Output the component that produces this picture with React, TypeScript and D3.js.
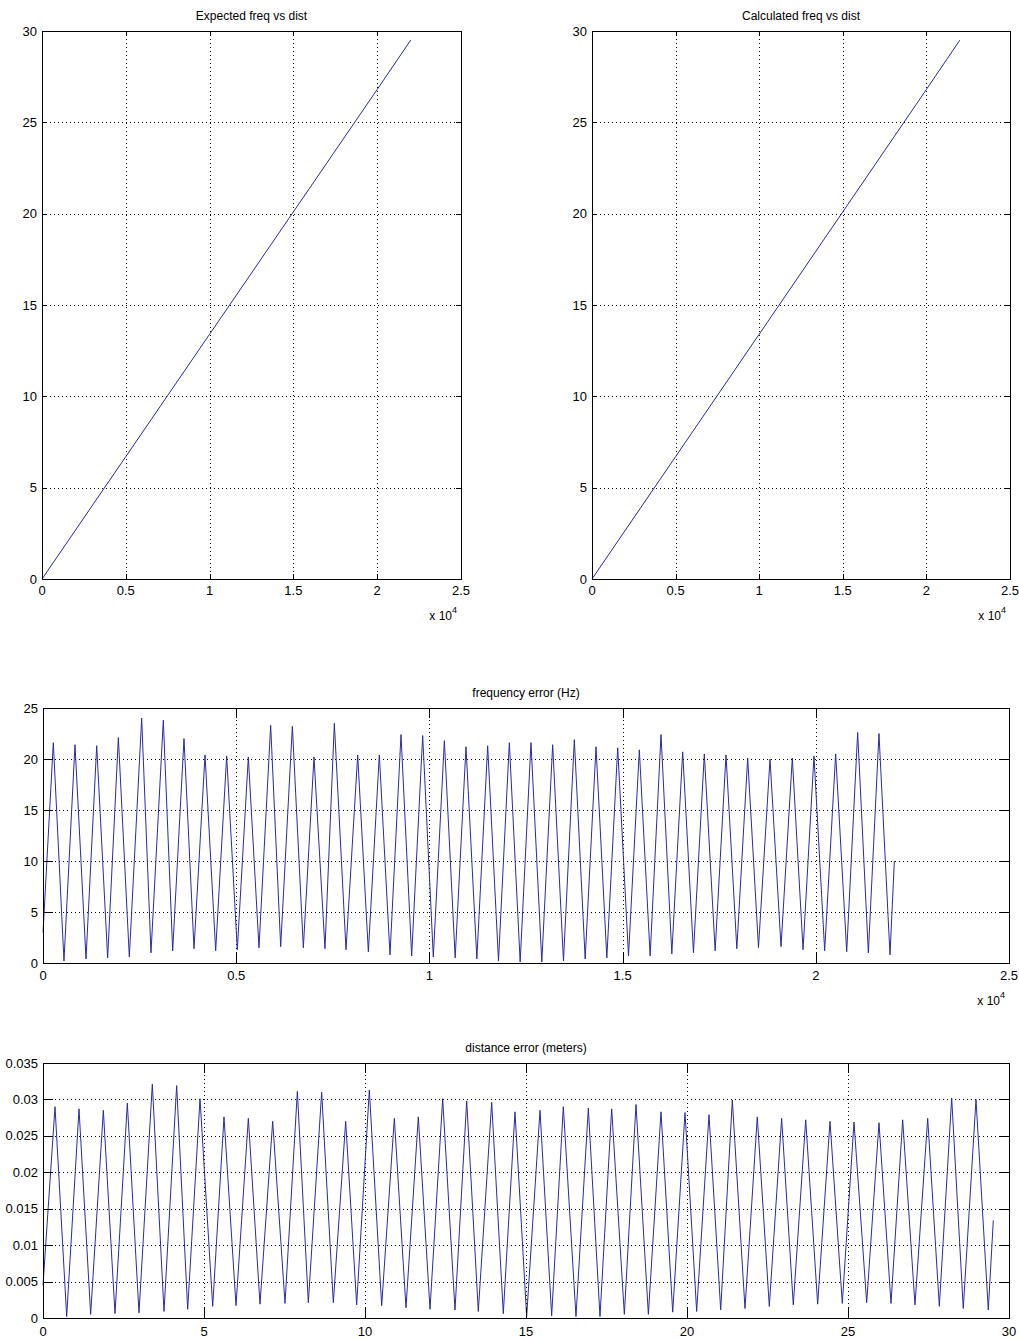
import React from 'react';
import * as d3 from 'd3';

// top panels: frequency vs distance
const distPoints = [0, 5000, 10000, 15000, 20000, 22000];
const expectedFreq = [0, 6.7, 13.4, 20.1, 26.8, 29.5];
const calculatedFreq = [0, 6.7, 13.4, 20.1, 26.8, 29.5];

// frequency error (Hz) vs distance, peaks and troughs
const freqErrX = [
  0, 267, 543, 828, 1113, 1390, 1673, 1950, 2234, 2554, 2795, 3114, 3356, 3649, 3908, 4193,
  4469, 4753, 5029, 5314, 5590, 5892, 6151, 6453, 6738, 7013, 7298, 7540, 7842, 8144, 8420,
  8704, 8980, 9265, 9541, 9826, 10101, 10387, 10667, 10947, 11228, 11508, 11788, 12069, 12349,
  12629, 12909, 13190, 13470, 13751, 14031, 14312, 14592, 14873, 15153, 15433, 15713, 15994,
  16274, 16555, 16834, 17115, 17395, 17676, 17956, 18237, 18517, 18815, 19100, 19392, 19670,
  19953, 20230, 20514, 20800, 21083, 21360, 21635, 21920, 22033
];
const freqErrY = [
  3.0, 21.6, 0.2, 21.4, 0.4, 21.3, 0.5, 22.1, 0.6, 24.0, 1.0, 23.8, 1.2, 22.0, 1.4, 20.4,
  1.2, 20.3, 1.3, 20.2, 1.5, 23.3, 1.6, 23.2, 1.5, 20.2, 1.4, 23.5, 1.3, 20.4, 1.1,
  20.4, 0.8, 22.4, 0.7, 22.3, 0.6, 21.8, 0.5, 21.2, 0.4, 21.3, 0.2, 21.6, 0.1,
  21.6, 0.1, 21.4, 0.2, 21.9, 0.4, 21.2, 0.5, 21.1, 0.7, 20.9, 0.7, 22.4,
  0.9, 20.7, 1.0, 20.5, 1.2, 20.4, 1.4, 20.1, 1.5, 20.0, 1.6, 20.1, 1.3,
  20.3, 1.2, 20.5, 1.1, 22.6, 1.0, 22.5, 0.8, 10.0
];

// distance error (meters)
const distErrX = [
  0, 0.373, 0.735, 1.118, 1.48, 1.874, 2.236, 2.619, 2.981, 3.395, 3.758, 4.151, 4.493, 4.876,
  5.27, 5.621, 5.994, 6.377, 6.739, 7.133, 7.516, 7.899, 8.24, 8.654, 9.016, 9.4, 9.741, 10.134,
  10.518, 10.911, 11.273, 11.656, 12.019, 12.412, 12.795, 13.158, 13.519, 13.934, 14.295, 14.658,
  15.02, 15.435, 15.797, 16.159, 16.552, 16.936, 17.298, 17.661, 18.054, 18.416, 18.8, 19.193,
  19.556, 19.938, 20.3, 20.683, 21.046, 21.407, 21.801, 22.183, 22.556, 22.939, 23.301, 23.686,
  24.058, 24.441, 24.823, 25.186, 25.58, 25.963, 26.335, 26.698, 27.08, 27.475, 27.836, 28.22,
  28.58, 28.975, 29.357, 29.513
];
const distErrY = [
  0.0045, 0.029, 0.0002, 0.0287, 0.0005, 0.0285, 0.0006, 0.0295, 0.0007, 0.0321, 0.0009, 0.0319,
  0.0012, 0.0301, 0.0016, 0.0276, 0.0017, 0.0274, 0.0019, 0.027, 0.002, 0.0311, 0.0021, 0.031,
  0.0021, 0.027, 0.0018, 0.0313, 0.0017, 0.0274, 0.0014, 0.0276, 0.0012, 0.0301, 0.0011, 0.0298,
  0.0009, 0.0296, 0.0006, 0.0283, 0.0002, 0.0285, 0.0003, 0.029, 0.0002, 0.0288, 0.0002, 0.0287,
  0.0005, 0.0293, 0.0005, 0.0283, 0.0008, 0.0282, 0.0009, 0.0279, 0.0011, 0.0299, 0.0013, 0.0276,
  0.0016, 0.0274, 0.0018, 0.0272, 0.0019, 0.027, 0.002, 0.0269, 0.0021, 0.0268, 0.002, 0.0272,
  0.0018, 0.0274, 0.0016, 0.0302, 0.0013, 0.03, 0.0011, 0.0134
];

const distTicks = [0, 5000, 10000, 15000, 20000, 25000];
const distTickLabels = ['0', '0.5', '1', '1.5', '2', '2.5'];
const freqTicks = [0, 5, 10, 15, 20, 25, 30];
const freqErrTicks = [0, 5, 10, 15, 20, 25];
const metersTicks = [0, 5, 10, 15, 20, 25, 30];
const distErrTicks = [0, 0.005, 0.01, 0.015, 0.02, 0.025, 0.03, 0.035];
const distErrTickLabels = ['0', '0.005', '0.01', '0.015', '0.02', '0.025', '0.03', '0.035'];

const FONT = '"Liberation Sans", Arial, sans-serif';
const LINE = '#2a2aa8';

type PanelProps = {
  left: number; top: number; right: number; bottom: number;
  xMax: number; yMax: number;
  xTicks: number[]; xLabels: string[];
  yTicks: number[]; yLabels: string[];
  xs: number[]; ys: number[];
  title: string; tickLen: number; exponent?: boolean; labelGap: number;
};

function Panel(p: PanelProps) {
  const x = d3.scaleLinear().domain([0, p.xMax]).range([p.left, p.right]);
  const y = d3.scaleLinear().domain([0, p.yMax]).range([p.bottom, p.top]);
  const line = d3.line<number>().x((_, i) => x(p.xs[i])).y(d => y(d));
  const cx = (p.left + p.right) / 2;
  return (
    <g>
      <text x={cx} y={p.top - 11} textAnchor="middle" fontSize={12} fontFamily={FONT}>{p.title}</text>
      {/* grid */}
      <g stroke="#000" strokeWidth={1} strokeDasharray="1,3" shapeRendering="crispEdges">
        {p.xTicks.slice(1, -1).map(t => (
          <line key={'gx' + t} x1={Math.round(x(t)) + 0.5} x2={Math.round(x(t)) + 0.5} y1={p.top} y2={p.bottom} />
        ))}
        {p.yTicks.slice(1, -1).map(t => (
          <line key={'gy' + t} x1={p.left} x2={p.right} y1={Math.round(y(t)) + 0.5} y2={Math.round(y(t)) + 0.5} />
        ))}
      </g>
      <path d={line(p.ys) || ''} fill="none" stroke={LINE} strokeWidth={1} />
      {/* ticks */}
      <g stroke="#000" strokeWidth={1} shapeRendering="crispEdges">
        {p.xTicks.map(t => {
          const xx = Math.round(x(t)) + 0.5;
          return (
            <g key={'tx' + t}>
              <line x1={xx} x2={xx} y1={p.bottom} y2={p.bottom - p.tickLen} />
              <line x1={xx} x2={xx} y1={p.top} y2={p.top + p.tickLen} />
            </g>
          );
        })}
        {p.yTicks.map(t => {
          const yy = Math.round(y(t)) + 0.5;
          return (
            <g key={'ty' + t}>
              <line x1={p.left} x2={p.left + p.tickLen} y1={yy} y2={yy} />
              <line x1={p.right} x2={p.right - p.tickLen} y1={yy} y2={yy} />
            </g>
          );
        })}
        <rect x={p.left + 0.5} y={p.top + 0.5} width={p.right - p.left} height={p.bottom - p.top} fill="none" />
      </g>
      <g fontSize={13} fontFamily={FONT} fill="#000">
        {p.xTicks.map((t, i) => (
          <text key={'lx' + t} x={x(t)} y={p.bottom + p.labelGap} textAnchor="middle">{p.xLabels[i]}</text>
        ))}
        {p.yTicks.map((t, i) => (
          <text key={'ly' + t} x={p.left - 5} y={y(t) + 4.5} textAnchor="end">{p.yLabels[i]}</text>
        ))}
      </g>
      {p.exponent && (
        <text x={p.right - 4} y={p.bottom + p.labelGap + 25} textAnchor="end" fontSize={12} fontFamily={FONT}>
          x 10<tspan dy={-7} fontSize={9}>4</tspan>
        </text>
      )}
    </g>
  );
}

export default function App() {
  return (
    <svg width={1019} height={1340} style={{ position: 'absolute', left: 0, top: 0, background: '#fff' }}>
      <Panel left={42} top={31} right={461} bottom={579} xMax={25000} yMax={30}
        xTicks={distTicks} xLabels={distTickLabels} yTicks={freqTicks} yLabels={freqTicks.map(String)}
        xs={distPoints} ys={expectedFreq} title="Expected freq vs dist" tickLen={5} exponent labelGap={16} />
      <Panel left={592} top={31} right={1010} bottom={579} xMax={25000} yMax={30}
        xTicks={distTicks} xLabels={distTickLabels} yTicks={freqTicks} yLabels={freqTicks.map(String)}
        xs={distPoints} ys={calculatedFreq} title="Calculated freq vs dist" tickLen={5} exponent labelGap={16} />
      <Panel left={43} top={708} right={1009} bottom={963} xMax={25000} yMax={25}
        xTicks={distTicks} xLabels={distTickLabels} yTicks={freqErrTicks} yLabels={freqErrTicks.map(String)}
        xs={freqErrX} ys={freqErrY} title="frequency error (Hz)" tickLen={10} exponent labelGap={17} />
      <Panel left={43} top={1063} right={1009} bottom={1318} xMax={30} yMax={0.035}
        xTicks={metersTicks} xLabels={metersTicks.map(String)} yTicks={distErrTicks} yLabels={distErrTickLabels}
        xs={distErrX} ys={distErrY} title="distance error (meters)" tickLen={10} labelGap={18} />
    </svg>
  );
}
